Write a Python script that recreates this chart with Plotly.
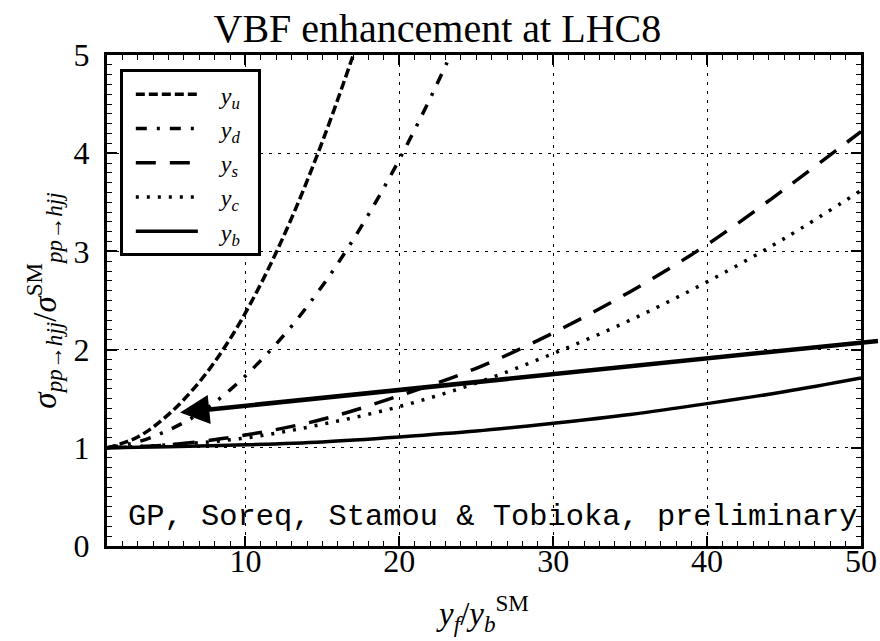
import plotly.graph_objects as go

# ---- data ----
x_u = [1, 3, 5, 7, 9, 11, 13, 15, 17, 18]
y_u = [1.00, 1.11, 1.34, 1.67, 2.11, 2.67, 3.34, 4.12, 5.00, 5.49]

x_d = [1, 3, 5, 7, 9, 11, 13, 15, 17, 19, 21, 23, 25]
y_d = [1.00, 1.06, 1.18, 1.35, 1.59, 1.89, 2.24, 2.65, 3.12, 3.65, 4.24, 4.89, 5.60]

x_sc = [1, 5, 10, 15, 20, 25, 30, 35, 40, 45, 50]
y_s = [1.00, 1.03, 1.13, 1.29, 1.53, 1.81, 2.17, 2.59, 3.07, 3.63, 4.22]
y_c = [1.00, 1.03, 1.10, 1.24, 1.42, 1.66, 1.96, 2.30, 2.69, 3.13, 3.62]
y_b = [1.00, 1.01, 1.03, 1.06, 1.11, 1.17, 1.25, 1.34, 1.45, 1.57, 1.71]

names = ["<i>y<sub>u</sub></i>", "<i>y<sub>d</sub></i>", "<i>y<sub>s</sub></i>",
         "<i>y<sub>c</sub></i>", "<i>y<sub>b</sub></i>"]

arrow_head = (5.75, 1.36)
arrow_tail = (51.2, 2.09)

x_ticks = [10, 20, 30, 40, 50]
y_ticks = [0, 1, 2, 3, 4, 5]

SERIF = "Liberation Serif"
PAD = "\u00a0\u00a0\u00a0"
TAIL = "\u00a0\u00a0"

fig = go.Figure()
series = [
    (x_u, y_u, names[0], "9px,4px"),
    (x_d, y_d, names[1], "11px,10px,3px,10px"),
    (x_sc, y_s, names[2], "20px,14px"),
    (x_sc, y_c, names[3], "3px,8px"),
    (x_sc, y_b, names[4], "solid"),
]
for xs, ys, nm, dash in series:
    fig.add_trace(go.Scatter(x=xs, y=ys, name=PAD + nm + TAIL, mode="lines",
                             line=dict(color="black", width=3.5, dash=dash, shape="spline")))

axis_common = dict(
    showline=True, linecolor="black", linewidth=3, mirror="allticks",
    ticks="inside", ticklen=10, tickwidth=1.5, tickcolor="black",
    showgrid=True, gridcolor="black", gridwidth=1, griddash="3px,6px",
    zeroline=False, automargin=False,
    tickfont=dict(family=SERIF, size=32, color="black"),
)

fig.update_xaxes(range=[1, 50], tickvals=x_ticks,
                 minor=dict(dtick=1, tick0=0, ticks="inside", ticklen=5, tickwidth=1.2,
                            tickcolor="black", showgrid=False),
                 ticklabelstandoff=-15,
                 title=dict(text="<i>y<sub>f</sub></i>/<i>y<sub>b</sub></i><sup>SM</sup>",
                            font=dict(family=SERIF, size=33, color="black"), standoff=24),
                 **axis_common)
fig.update_yaxes(range=[0, 5], tickvals=y_ticks,
                 minor=dict(dtick=0.1, tick0=0, ticks="inside", ticklen=5, tickwidth=1.2,
                            tickcolor="black", showgrid=False),
                 ticklabelstandoff=8,
                 title=dict(text="<i>σ<sub>pp→hjj</sub></i>/<i>σ</i><sup>SM</sup><sub><i>pp→hjj</i></sub>",
                            font=dict(family=SERIF, size=33, color="black"), standoff=8),
                 **axis_common)

fig.add_annotation(x=arrow_head[0], y=arrow_head[1], ax=arrow_tail[0], ay=arrow_tail[1],
                   xref="x", yref="y", axref="x", ayref="y", text="",
                   showarrow=True, arrowhead=2, arrowsize=1.3, arrowwidth=4.5,
                   arrowcolor="black")

fig.add_annotation(x=0.512, y=0.3, xref="paper", yref="y",
                   text="GP, Soreq, Stamou &amp; Tobioka, preliminary",
                   showarrow=False, font=dict(family="Liberation Mono", size=30.4, color="black"))

fig.update_layout(
    width=880, height=641,
    margin=dict(l=107, r=19, t=55, b=95),
    paper_bgcolor="white", plot_bgcolor="white",
    title=dict(text="VBF enhancement at LHC8", x=0.497, xanchor="center",
               y=1 - 28 / 641, yanchor="middle", yref="container",
               font=dict(family=SERIF, size=40, color="black")),
    legend=dict(x=0.017, y=0.971, xanchor="left", yanchor="top",
                bgcolor="white", bordercolor="black", borderwidth=3,
                itemwidth=62, indentation=8,
                font=dict(family=SERIF, size=24, color="black")),
    showlegend=True,
)

fig.write_html("out.html")
